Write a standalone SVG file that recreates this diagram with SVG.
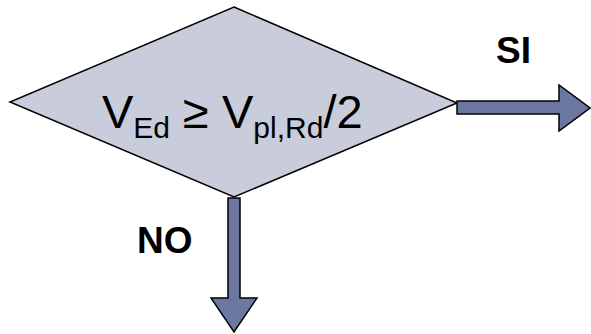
<svg xmlns="http://www.w3.org/2000/svg" width="591" height="334" viewBox="0 0 591 334">
<style>
.shape{stroke:#000;stroke-width:1.5;stroke-linejoin:miter}
.dec{fill:#c8ccdb}
.arr{fill:#6d78a1}
.lbl{font-family:"Liberation Sans",Arial,sans-serif;font-weight:bold;font-size:37px;fill:#000}
.main{font-family:"Liberation Sans",Arial,sans-serif;font-size:47px;fill:#000}
.sub{font-size:30px}
</style>
<rect width="591" height="334" fill="#fff"/>
<g id="decision">
<polygon class="shape dec" points="234,7 457,103 234,197 10,102"/>
<text class="main" x="102" y="128">V<tspan class="sub" dy="10">Ed</tspan><tspan dy="-10"> ≥ V</tspan><tspan class="sub" dy="10">pl,Rd</tspan><tspan dy="-10">/2</tspan></text>
</g>
<g id="connectors">
<polygon class="shape arr" points="457,101 559,101 559,85 590,108 559,131 559,114 457,114"/>
<polygon class="shape arr" points="228,198 240,198 240,298 257,298 234,332 211,298 228,298"/>
</g>
<g id="label-si"><text class="lbl" x="496" y="63">SI</text></g>
<g id="label-no"><text class="lbl" x="137" y="253">NO</text></g>
</svg>
